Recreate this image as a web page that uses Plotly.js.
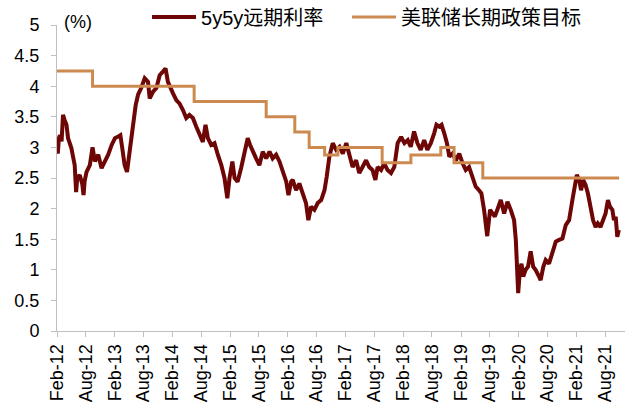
<!DOCTYPE html>
<html>
<head>
<meta charset="utf-8">
<script src="https://cdn.plot.ly/plotly-3.0.1.min.js"></script>
<style>html,body{margin:0;padding:0;background:#fff;}#chart{width:640px;height:418px;}</style>
</head>
<body>
<div id="chart"></div>
<script>
// 5y5y forward rate (%)
const fwdDates = [
"2012-02-01","2012-02-06","2012-02-13","2012-02-20","2012-03-01","2012-03-10","2012-03-20","2012-04-01","2012-04-11","2012-05-02",
"2012-05-23","2012-06-01","2012-06-08","2012-06-24","2012-07-10","2012-07-18","2012-07-25","2012-08-06","2012-08-27","2012-09-13",
"2012-09-28","2012-10-19","2012-11-09","2012-12-01","2012-12-21","2013-01-12","2013-02-02","2013-02-23","2013-03-08","2013-03-20",
"2013-04-04","2013-04-19","2013-05-06","2013-05-27","2013-06-13","2013-06-28","2013-07-18","2013-08-09","2013-08-30","2013-09-10",
"2013-10-01","2013-10-22","2013-11-12","2013-12-03","2013-12-19","2014-01-03","2014-01-15","2014-02-05","2014-02-26","2014-03-17",
"2014-04-08","2014-04-29","2014-05-19","2014-06-10","2014-07-01","2014-07-22","2014-08-12","2014-08-29","2014-09-13","2014-10-04",
"2014-10-25","2014-11-15","2014-12-07","2014-12-27","2015-01-14","2015-01-28","2015-02-15","2015-03-01","2015-03-20","2015-04-11",
"2015-05-02","2015-05-23","2015-06-07","2015-06-24","2015-07-15","2015-08-05","2015-08-26","2015-09-17","2015-10-08","2015-10-28",
"2015-11-19","2015-12-10","2015-12-31","2016-01-22","2016-02-05","2016-02-22","2016-03-03","2016-03-24","2016-04-14","2016-05-05",
"2016-05-26","2016-06-10","2016-06-27","2016-07-18","2016-08-08","2016-08-30","2016-09-20","2016-10-04","2016-10-21","2016-11-11",
"2016-12-03","2016-12-24","2017-01-14","2017-02-05","2017-02-26","2017-03-17","2017-04-08","2017-04-28","2017-05-19","2017-06-10",
"2017-06-30","2017-07-21","2017-08-08","2017-08-22","2017-09-13","2017-10-03","2017-10-24","2017-11-15","2017-12-06","2017-12-27",
"2018-01-18","2018-02-08","2018-03-01","2018-03-20","2018-04-10","2018-05-01","2018-05-22","2018-06-13","2018-07-03","2018-07-25",
"2018-08-15","2018-08-30","2018-09-16","2018-10-01","2018-10-18","2018-11-04","2018-11-19","2018-12-09","2018-12-31","2019-01-21",
"2019-02-11","2019-03-03","2019-03-24","2019-04-14","2019-05-05","2019-05-26","2019-06-10","2019-06-27","2019-07-07","2019-07-17",
"2019-08-04","2019-08-19","2019-09-03","2019-09-19","2019-10-11","2019-11-01","2019-11-22","2019-12-13","2020-01-03","2020-01-14",
"2020-01-24","2020-01-29","2020-02-09","2020-02-19","2020-03-01","2020-03-16","2020-03-31","2020-04-17","2020-05-03","2020-05-18",
"2020-06-09","2020-06-19","2020-07-06","2020-07-21","2020-08-11","2020-09-01","2020-09-23","2020-10-14","2020-11-04","2020-11-25",
"2020-12-16","2021-01-06","2021-01-22","2021-02-03","2021-02-18","2021-03-02","2021-03-15","2021-03-30","2021-04-14","2021-05-01",
"2021-05-17","2021-06-02","2021-06-16","2021-07-03","2021-07-19","2021-08-04","2021-08-19","2021-09-01","2021-09-16","2021-09-26",
"2021-10-07","2021-10-17","2021-10-27"
];
const fwdValues = [
3.05,2.90,3.15,3.20,3.10,3.53,3.45,3.37,3.15,2.99,
2.71,2.27,2.50,2.55,2.40,2.22,2.45,2.60,2.71,3.00,
2.77,2.88,2.66,2.77,2.88,3.04,3.15,3.18,3.20,2.99,
2.71,2.60,2.93,3.42,3.69,3.86,3.97,4.13,4.07,3.80,
3.91,3.97,4.18,4.24,4.29,4.07,3.99,3.88,3.77,3.72,
3.61,3.48,3.53,3.48,3.34,3.20,3.09,3.37,3.15,3.04,
3.07,2.88,2.71,2.50,2.17,2.50,2.77,2.50,2.44,2.66,
2.93,3.15,3.04,2.93,2.82,2.71,2.93,2.82,2.93,2.82,
2.88,2.77,2.60,2.44,2.22,2.44,2.47,2.30,2.41,2.25,
2.09,1.81,2.03,1.98,2.09,2.14,2.30,2.52,2.85,3.07,
2.96,3.01,2.90,3.07,2.85,2.68,2.79,2.58,2.68,2.79,
2.68,2.63,2.47,2.68,2.63,2.74,2.63,2.58,2.68,3.07,
3.17,3.07,3.12,3.01,3.26,3.07,2.96,3.12,2.96,3.07,
3.23,3.37,3.34,3.37,3.23,3.07,2.85,2.90,2.79,2.90,
2.74,2.63,2.68,2.52,2.36,2.30,2.25,1.98,1.70,1.55,
1.98,1.92,1.87,1.98,2.14,1.92,2.11,1.98,1.81,1.49,
1.05,0.62,1.00,1.10,0.89,1.00,1.05,1.30,1.05,1.00,
0.89,0.83,1.05,1.16,1.10,1.27,1.46,1.49,1.51,1.73,
1.81,2.14,2.41,2.55,2.47,2.30,2.47,2.39,2.25,2.03,
1.81,1.70,1.76,1.70,1.81,1.92,2.14,2.03,1.98,1.81,
1.87,1.54,1.65
];

// Fed longer-run policy target (%), step changes
const fedDates = ["2012-02-01","2012-09-13","2014-06-18","2015-09-17","2016-03-16","2016-06-15","2016-09-21","2016-12-14","2017-09-20","2018-03-21","2018-09-26","2018-12-19","2019-06-19","2021-10-29"];
const fedValues = [4.25,4.0,3.75,3.5,3.25,3.0,2.875,3.0,2.75,2.875,3.0,2.75,2.5,2.5];

const seriesNames = ["5y5y远期利率","美联储长期政策目标"];

const xTickDates = ["2012-02-01","2012-08-01","2013-02-01","2013-08-01","2014-02-01","2014-08-01","2015-02-01","2015-08-01","2016-02-01","2016-08-01","2017-02-01","2017-08-01","2018-02-01","2018-08-01","2019-02-01","2019-08-01","2020-02-01","2020-08-01","2021-02-01","2021-08-01"];
const xTickText = ["Feb-12","Aug-12","Feb-13","Aug-13","Feb-14","Aug-14","Feb-15","Aug-15","Feb-16","Aug-16","Feb-17","Aug-17","Feb-18","Aug-18","Feb-19","Aug-19","Feb-20","Aug-20","Feb-21","Aug-21"];
const yTickVals = [0,0.5,1,1.5,2,2.5,3,3.5,4,4.5,5];
const yTickText = ["0","0.5","1","1.5","2","2.5","3","3.5","4","4.5","5"];

const FONT = "Liberation Sans, Arial, Noto Sans CJK SC, sans-serif";

const traces = [
  {x: fwdDates, y: fwdValues, name: seriesNames[0], type: "scatter", mode: "lines",
   line: {color: "#6E0606", width: 4}, legend: "legend"},
  {x: fedDates, y: fedValues, name: seriesNames[1], type: "scatter", mode: "lines",
   line: {color: "#CD8A50", width: 3, shape: "hv"}, legend: "legend2"}
];

const legendBase = {orientation: "h", xanchor: "left", y: 1.026, yanchor: "middle",
  font: {family: FONT, size: 20, color: "#000"}, itemwidth: 44, bgcolor: "rgba(0,0,0,0)"};

const layout = {
  width: 640, height: 418,
  margin: {l: 57, r: 15, t: 25, b: 87, autoexpand: false},
  paper_bgcolor: "#fff", plot_bgcolor: "#fff",
  font: {family: FONT, size: 18, color: "#000"},
  showlegend: true,
  legend: Object.assign({}, legendBase, {x: 0.1585}),
  legend2: Object.assign({}, legendBase, {x: 0.5106}),
  xaxis: {type: "date", range: ["2012-02-01", "2021-12-05"],
          tickmode: "array", tickvals: xTickDates, ticktext: xTickText, tickangle: -90,
          showgrid: false, zeroline: false, showline: true, linecolor: "#BFBFBF", linewidth: 1,
          ticks: "outside", ticklen: 5, tickcolor: "#BFBFBF",
          tickfont: {family: FONT, size: 18, color: "#000"}},
  yaxis: {range: [0, 5], tickmode: "array", tickvals: yTickVals, ticktext: yTickText,
          showgrid: false, zeroline: false, showline: true, linecolor: "#BFBFBF", linewidth: 1,
          ticks: "outside", ticklen: 5, tickcolor: "#BFBFBF", ticklabelstandoff: 8,
          tickfont: {family: FONT, size: 18, color: "#000"}},
  annotations: [{xref: "paper", yref: "paper", x: 0.008, y: 1.01, xanchor: "left", yanchor: "middle",
                 text: "(%)", showarrow: false, font: {family: FONT, size: 18, color: "#000"}}]
};

Plotly.newPlot("chart", traces, layout, {displayModeBar: false, staticPlot: true});
</script>
</body>
</html>
